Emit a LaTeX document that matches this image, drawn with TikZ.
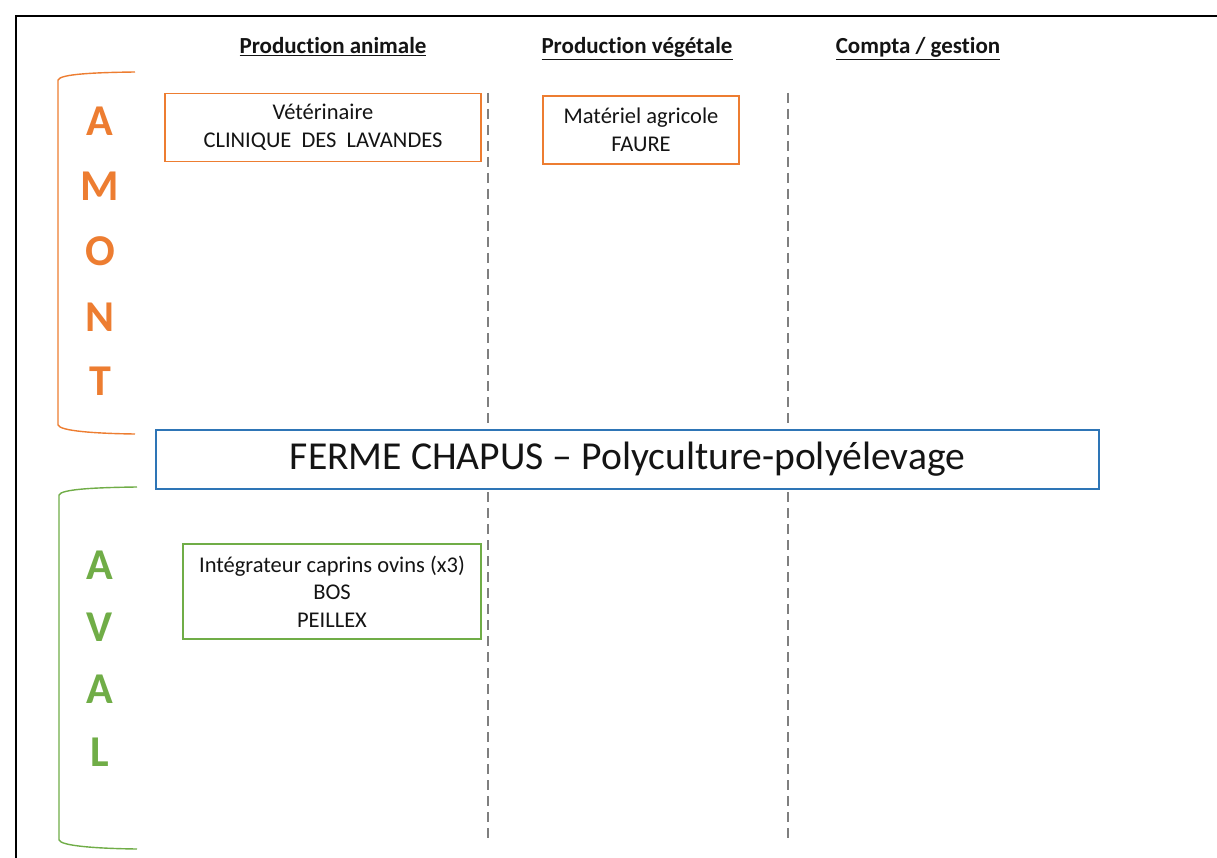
\documentclass[tikz,border=0pt]{standalone}
\usepackage{fontspec}
\setmainfont{Carlito}[Ligatures=NoCommon]
\definecolor{orng}{HTML}{ED7D31}
\definecolor{grn}{HTML}{70AD47}
\definecolor{blu}{HTML}{2E75B6}
\definecolor{dgray}{HTML}{7F7F7F}
\definecolor{txt}{HTML}{141414}
\tikzset{
  header/.style={anchor=base, text=txt, font=\fontsize{23}{27}\selectfont\bfseries, inner sep=0pt},
  letter/.style={anchor=base, font=\fontsize{44}{50}\selectfont\bfseries, inner sep=0pt},
  actor/.style={draw, line width=1.6pt, align=center, text=txt, font=\fontsize{22.5}{27.5}\selectfont, inner sep=0pt},
  sep/.style={dgray, line width=2.8pt, dash pattern=on 10pt off 6pt},
  bracket/.style={line width=1.4pt},
}
\begin{document}
\begin{tikzpicture}[x=1pt,y=-1pt]
\useasboundingbox (0,0) rectangle (1217,858);
\fill[white] (0,0) rectangle (1217,858);
% frame
\draw[line width=2pt, black] (15.5,858) -- (15.5,16.5) -- (1217,16.5);
% headers
\node[header] (h1) at (333,54) {\underline{Production animale}};
\node[header] (h2) at (637,54) {\underline{Production végétale}};
\node[header] (h3) at (918,54) {\underline{Compta / gestion}};
% separators
\coordinate (s1a) at (488,93); \coordinate (s1b) at (488,428);
\coordinate (s1c) at (488,492); \coordinate (s1d) at (488,838);
\coordinate (s2a) at (788,93); \coordinate (s2b) at (788,428);
\coordinate (s2c) at (788,492); \coordinate (s2d) at (788,838);
\draw[sep] (s1a) -- (s1b);
\draw[sep] (s1c) -- (s1d);
\draw[sep] (s2a) -- (s2b);
\draw[sep] (s2c) -- (s2d);
% brackets
\draw[bracket, orng] (135,72) .. controls (95,72.5) and (60,74) .. (58,80) -- (58,425) .. controls (60,431) and (95,433.5) .. (135,434);
\draw[bracket, grn] (137,487) .. controls (97,487.5) and (61,489) .. (59,495) -- (59,840) .. controls (61,846) and (97,848.5) .. (137,849);
% AMONT
\node[letter, orng] (am1) at (100,136) {A};
\node[letter, orng] (am2) at (100,201) {M};
\node[letter, orng] (am3) at (100,266) {O};
\node[letter, orng] (am4) at (100,331) {N};
\node[letter, orng] (am5) at (100,395) {T};
% AVAL
\node[letter, grn] (av1) at (100,579) {A};
\node[letter, grn] (av2) at (100,641) {V};
\node[letter, grn] (av3) at (100,703) {A};
\node[letter, grn] (av4) at (100,766) {L};
% boxes
\node[actor, orng, minimum width=316pt, minimum height=68pt] (vet) at (323,127.5) {\textcolor{txt}{Vétérinaire}\\\textcolor{txt}{CLINIQUE\ \ DES\ \ LAVANDES}};
\node[actor, orng, minimum width=196pt, minimum height=68pt] (mat) at (641,130) {\textcolor{txt}{Matériel agricole}\\\textcolor{txt}{FAURE}};
\node[actor, grn, minimum width=298pt, minimum height=95pt] (integ) at (332,591.5) {\textcolor{txt}{Intégrateur caprins ovins (x3)}\\\textcolor{txt}{BOS}\\\textcolor{txt}{PEILLEX}};
\node[draw=blu, line width=2.6pt, minimum width=943pt, minimum height=59pt, inner sep=0pt, text=txt, font=\fontsize{39.6}{44}\selectfont] (ferme) at (627.5,459.5) {\raisebox{-3.5pt}{FERME CHAPUS – Polyculture-polyélevage}};
\end{tikzpicture}
\end{document}
